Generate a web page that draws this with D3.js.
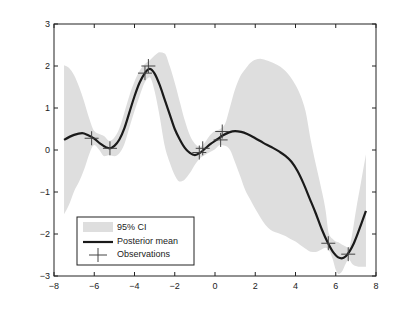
<!DOCTYPE html>
<html><head><meta charset="utf-8">
<script src="https://cdn.jsdelivr.net/npm/d3@7"></script>
<style>body{margin:0;background:#fff}svg{display:block}text{font-family:"Liberation Sans",Arial,sans-serif}</style>
</head><body><svg id="c" width="415" height="312"></svg>
<script>
const xTicks=[-8,-6,-4,-2,0,2,4,6,8];
const yTicks=[-3,-2,-1,0,1,2,3];
const meanX=[-7.5,-7.0,-6.6,-6.3,-6.0,-5.7,-5.4,-5.25,-5.0,-4.75,-4.5,-4.25,-4.0,-3.75,-3.5,-3.25,-3.0,-2.75,-2.5,-2.25,-2.0,-1.75,-1.5,-1.25,-1.0,-0.75,-0.5,-0.2,0.1,0.4,0.7,1.0,1.3,1.6,2.0,2.4,2.8,3.2,3.5,3.8,4.1,4.4,4.7,5.0,5.3,5.6,5.9,6.1,6.3,6.5,6.7,6.9,7.1,7.3,7.5];
const meanY=[0.24,0.36,0.40,0.35,0.27,0.15,0.06,0.04,0.1,0.25,0.52,0.9,1.28,1.6,1.82,1.93,1.82,1.55,1.2,0.85,0.5,0.25,0.05,-0.07,-0.12,-0.07,0.03,0.15,0.25,0.35,0.42,0.45,0.43,0.38,0.28,0.17,0.07,-0.04,-0.14,-0.28,-0.5,-0.8,-1.15,-1.5,-1.88,-2.2,-2.45,-2.55,-2.58,-2.53,-2.4,-2.22,-1.98,-1.72,-1.45];
const bandX=[-7.5,-7.25,-7.0,-6.75,-6.5,-6.25,-6.0,-5.75,-5.5,-5.25,-5.0,-4.75,-4.5,-4.25,-4.0,-3.75,-3.5,-3.25,-3.0,-2.75,-2.5,-2.25,-2.0,-1.75,-1.5,-1.25,-1.0,-0.75,-0.5,-0.25,0.0,0.25,0.5,0.75,1.0,1.25,1.5,1.75,2.0,2.25,2.5,2.75,3.0,3.25,3.5,3.75,4.0,4.25,4.5,4.75,5.0,5.25,5.5,5.65,5.85,6.0,6.15,6.3,6.5,6.65,6.8,7.0,7.25,7.5];
const upper=[2.02,1.95,1.78,1.5,1.15,0.75,0.45,0.38,0.33,0.22,0.3,0.52,0.9,1.3,1.63,1.88,2.04,2.13,2.25,2.33,2.3,2.0,1.6,1.15,0.7,0.35,0.15,0.08,0.18,0.35,0.45,0.5,0.62,1.03,1.45,1.75,1.92,2.07,2.15,2.17,2.14,2.1,2.05,1.98,1.88,1.74,1.55,1.3,0.92,0.25,-0.32,-0.85,-1.45,-1.98,-2.12,-2.18,-2.2,-2.25,-2.3,-2.34,-2.05,-1.45,-0.78,-0.1];
const lower=[-1.53,-1.3,-0.98,-0.75,-0.46,-0.1,0.12,0.0,-0.15,-0.12,-0.15,-0.08,0.14,0.54,0.93,1.28,1.6,1.73,1.4,0.8,0.1,-0.3,-0.6,-0.75,-0.7,-0.55,-0.35,-0.2,-0.12,-0.05,0.02,0.12,0.1,0.0,-0.3,-0.62,-0.95,-1.18,-1.4,-1.6,-1.78,-1.9,-1.96,-2.0,-2.05,-2.12,-2.18,-2.27,-2.35,-2.42,-2.43,-2.38,-2.33,-2.38,-2.6,-2.85,-2.95,-2.9,-2.7,-2.6,-2.7,-2.76,-2.78,-2.78];
const obsX=[-6.13,-5.22,-3.48,-3.31,-0.78,-0.61,0.28,0.36,5.63,6.62];
const obsY=[0.28,0.04,1.83,2.0,-0.06,0.04,0.24,0.44,-2.22,-2.48];
const legendLabels=["95% CI","Posterior mean","Observations"];

const svg=d3.select("#c");
const L=54,R=376,T=24,B=276;
const x=d3.scaleLinear().domain([-8,8]).range([L,R]);
const y=d3.scaleLinear().domain([-3,3]).range([B,T]);
const grey="#dedede";
const g=svg.append("g");
const clip=svg.append("clipPath").attr("id","cp").append("rect").attr("x",L).attr("y",T).attr("width",R-L).attr("height",B-T);
const band=bandX.map((v,i)=>({x:v,u:upper[i],l:lower[i]}));
g.append("path").datum(band).attr("clip-path","url(#cp)")
 .attr("d",d3.area().x(d=>x(d.x)).y0(d=>y(d.l)).y1(d=>y(d.u)).curve(d3.curveMonotoneX))
 .attr("fill",grey);
const mean=meanX.map((v,i)=>({x:v,y:meanY[i]}));
g.append("path").datum(mean).attr("d",d3.line().x(d=>x(d.x)).y(d=>y(d.y)).curve(d3.curveMonotoneX))
 .attr("fill","none").attr("stroke","#1a1a1a").attr("stroke-width",2.2);
const cs=7;
obsX.forEach((v,i)=>{
  const cx=x(v),cy=y(obsY[i]);
  g.append("path").attr("d",`M${cx-cs},${cy}H${cx+cs}M${cx},${cy-cs}V${cy+cs}`).attr("stroke","#444").attr("stroke-width",1).attr("fill","none");
});
// axes box
svg.append("rect").attr("x",L).attr("y",T).attr("width",R-L).attr("height",B-T).attr("fill","none").attr("stroke","#222").attr("stroke-width",1);
const tl=4;
const ax=svg.append("g").attr("stroke","#222").attr("stroke-width",1);
xTicks.forEach(t=>{ax.append("line").attr("x1",x(t)).attr("x2",x(t)).attr("y1",B).attr("y2",B-tl);ax.append("line").attr("x1",x(t)).attr("x2",x(t)).attr("y1",T).attr("y2",T+tl);});
yTicks.forEach(t=>{ax.append("line").attr("x1",L).attr("x2",L+tl).attr("y1",y(t)).attr("y2",y(t));ax.append("line").attr("x1",R).attr("x2",R-tl).attr("y1",y(t)).attr("y2",y(t));});
const fmt=t=>t<0?"\u2212"+Math.abs(t):String(t);
svg.append("g").selectAll("text").data(xTicks).join("text").attr("x",d=>x(d)).attr("y",B+13).attr("text-anchor","middle").attr("font-size",9).attr("fill","#222").text(fmt);
svg.append("g").selectAll("text").data(yTicks).join("text").attr("x",L-4).attr("y",d=>y(d)+3).attr("text-anchor","end").attr("font-size",9).attr("fill","#222").text(fmt);
// legend
const lg=svg.append("g");
const lx=77,ly=217,lw=117,lh=48;
lg.append("rect").attr("x",lx).attr("y",ly).attr("width",lw).attr("height",lh).attr("fill","#fff").attr("stroke","#222").attr("stroke-width",1);
lg.append("rect").attr("x",lx+6).attr("y",ly+5).attr("width",30).attr("height",10).attr("fill",grey);
lg.append("line").attr("x1",lx+6).attr("x2",lx+36).attr("y1",ly+25).attr("y2",ly+25).attr("stroke","#1a1a1a").attr("stroke-width",2.2);
lg.append("path").attr("d",`M${lx+12},${ly+38}H${lx+30}M${lx+21},${ly+31}V${ly+45}`).attr("stroke","#444").attr("stroke-width",1);
legendLabels.forEach((s,i)=>lg.append("text").attr("x",lx+40).attr("y",ly+13+i*13.5).attr("font-size",9).attr("fill","#222").text(s));
</script></body></html>
